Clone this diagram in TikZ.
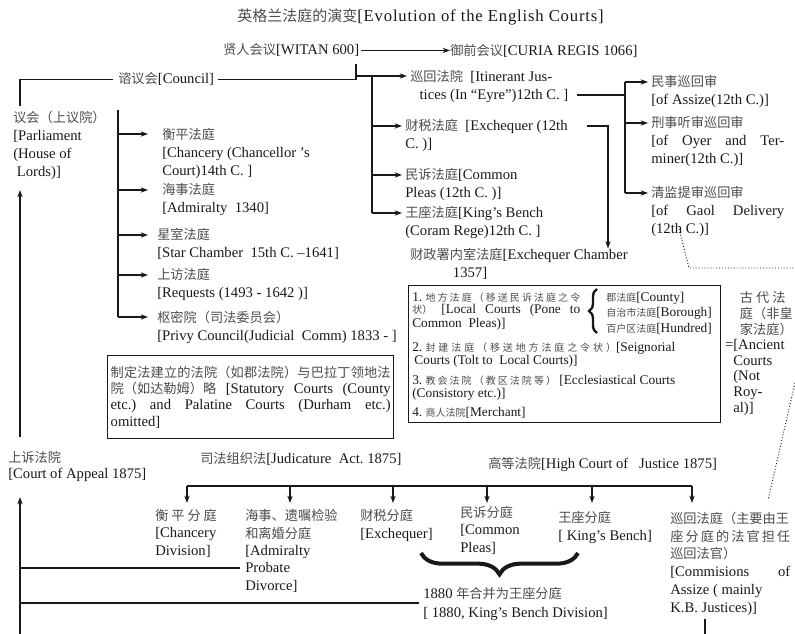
\documentclass[tikz,border=0pt]{standalone}
\usepackage{fontspec}
\setmainfont{Liberation Serif}
\newfontfamily\cjk{Noto Sans CJK SC}[Scale=0.9]
\newfontfamily\cjkl{Noto Sans CJK SC}[Scale=0.75]
\newfontfamily\titlefont{Liberation Serif}[LetterSpace=5]
\usetikzlibrary{arrows.meta,decorations.pathreplacing}
\definecolor{zhgray}{gray}{0.3}
\definecolor{ink}{gray}{0.1}
\newcommand\zh[1]{{\cjk\color{zhgray}#1}}
\newcommand\zhl[1]{{\cjkl\color{zhgray}#1}}
\newdimen\pxu \pxu=0.75pt
\newcommand\jl[2]{\makebox[#1\pxu][s]{#2}}
\makeatletter
\def\spr#1{\spr@#1\@nil}
\def\spr@#1{\ifx#1\@nil\else#1\expandafter\spr@@\fi}
\def\spr@@#1{\ifx#1\@nil\else\hfil#1\expandafter\spr@@\fi}
\makeatother
\frenchspacing
\begin{document}
\frenchspacing
\begin{tikzpicture}[x=0.75pt,y=-0.75pt,
  txt/.style={anchor=base west, inner sep=0pt, align=left, text=ink, font=\fontsize{11}{13.5}\selectfont},
  ln/.style={draw=ink, line width=1pt},
  arr/.style={ln, -{Stealth[length=5.5pt,width=4pt]}},
  dots/.style={draw=ink, line width=0.7pt, dash pattern=on 0.7pt off 1.5pt},
  boxed/.style={draw=ink, line width=1pt, anchor=north west, inner sep=0pt},
  bigbrace/.style={draw=ink, decorate}]
\useasboundingbox (0,0) rectangle (795,634);

% ---------- top ----------
\node[txt, font=\fontsize{12.5}{14}\selectfont] (title) at (237,22) {\zh{英格兰法庭的演变}{\titlefont[Evolution of the English Courts]}};
\node[txt] (witan) at (223,55) {\zh{贤人会议}[WITAN 600]};
\node[txt] (curia) at (450,56) {\zh{御前会议}[CURIA REGIS 1066]};
\draw[arr, shorten <=1pt] (witan.east) -- (witan.east -| curia.west);

\node[txt] (council) at (118,84) {\zh{谘议会}[Council]};
\node[txt] (parl) at (13,177) {\zh{议会（上议院）}\\{}[Parliament\\(House of\\\ Lords)]};
\coordinate (pTop) at (20,106);
\coordinate (jTop) at (356,64);
\coordinate (jA) at (356,76);
\draw[ln, shorten <=4pt] (council.west) -| (pTop);
\draw[ln, shorten <=3pt] (council.east) -| (jTop);

% ---------- Curia branches ----------
\node[txt] (itin) at (410,100) {\zh{巡回法院}\ \ [Itinerant Jus-\\\hspace*{7pt}tices (In “Eyre”)12th C. ]};
\node[txt] (exch) at (405,149) {\zh{财税法庭}\ \ [Exchequer (12th\\C. )]};
\node[txt] (cp) at (405,198) {\zh{民诉法庭}[Common\\Pleas (12th C. )]};
\node[txt] (kb) at (405,236) {\zh{王座法庭}[King’s Bench\\(Coram Rege)12th C. ]};
\node[txt] (exc) at (410,278) {\zh{财政署内室法庭}[Exchequer Chamber\\\hspace*{32pt}1357]};

\coordinate (itin1) at (407,76);
\coordinate (exch1) at (402,126);
\coordinate (cp1) at (402,175);
\coordinate (kb1) at (402,213);
\coordinate (bTop) at (372,76);
\draw[arr] (jA) -- (itin1);
\draw[ln] (bTop) -- (bTop |- kb1);
\draw[arr] (exch1 -| bTop) -- (exch1);
\draw[arr] (cp1 -| bTop) -- (cp1);
\draw[arr] (kb1 -| bTop) -- (kb1);

\coordinate (exE) at (587,126);
\coordinate (exA) at (608,126);
\draw[arr] (exE) -- (exA) -- (exA |- exc.north);

% ---------- Assize ----------
\node[txt] (assize) at (651,105) {\zh{民事巡回审}\\{}[of Assize(12th C.)]};
\node[txt] (oyer) at (651,164) {\zh{刑事听审巡回审}\\\jl{133}{[of Oyer and Ter-}\\miner(12th C.)]};
\node[txt] (gaol) at (651,234) {\zh{清监提审巡回审}\\\jl{133}{[of Gaol Delivery}\\(12th C.)]};
\coordinate (av1) at (625,82);
\coordinate (av2) at (625,193);
\coordinate (itE) at (577,95);
\coordinate (as1) at (648,82);
\coordinate (as2) at (648,123);
\coordinate (as3) at (648,193);
\draw[ln] (av1) -- (av2);
\draw[ln] (itE) -- (itE -| av1);
\draw[arr] (as1 -| av1) -- (as1);
\draw[arr] (as2 -| av1) -- (as2);
\draw[arr] (as3 -| av1) -- (as3);

% ---------- Council branches ----------
\node[txt] (chan) at (162,176) {\zh{衡平法庭}\\{}[Chancery (Chancellor ’s\\Court)14th C. ]};
\node[txt] (adm) at (162,213) {\zh{海事法庭}\\{}[Admiralty\ \ 1340]};
\node[txt] (star) at (157,258) {\zh{星室法庭}\\{}[Star Chamber\ \ 15th C. –1641]};
\node[txt] (req) at (157,298) {\zh{上访法庭}\\{}[Requests (1493 - 1642 )]};
\node[txt] (privy) at (157,340) {\zh{枢密院（司法委员会）}\\{}[Privy Council(Judicial\ \ Comm) 1833 - ]};
\coordinate (lTop) at (118,110);
\coordinate (chan1) at (148,134);
\coordinate (adm1) at (148,190);
\coordinate (star1) at (148,235);
\coordinate (req1) at (148,275);
\coordinate (privy1) at (148,317);
\draw[ln] (lTop) -- (lTop |- privy1);
\draw[arr] (chan1 -| lTop) -- (chan1);
\draw[arr] (adm1 -| lTop) -- (adm1);
\draw[arr] (star1 -| lTop) -- (star1);
\draw[arr] (req1 -| lTop) -- (req1);
\draw[arr] (privy1 -| lTop) -- (privy1);

% ---------- Statutory box ----------
\node[boxed, minimum width=286\pxu, minimum height=83\pxu, align=left, text=ink, font=\fontsize{11}{12.2}\selectfont] (stat) at (107,355)
 {\jl{280}{\zh{\spr{制定法建立的法院（如郡法院）与巴拉丁领地法}}}\\\jl{280}{\zh{院（如达勒姆）略}\ [Statutory Courts (County}\\\jl{280}{etc.) and Palatine Courts (Durham etc.)}\\omitted]};

% ---------- Local courts box ----------
\node[boxed, minimum width=312\pxu, minimum height=137\pxu] (localbox) at (408,285) {};
\node[txt, font=\fontsize{10}{9.75}\selectfont] (loc1) at (412,327) {\jl{168}{1. \zhl{\spr{地方法庭（移送民诉法庭之令}}}\\\jl{168}{\zhl{状）}\ [Local Courts (Pone to}\\Common\ \ Pleas)]};
\draw[bigbrace, decoration={brace, amplitude=6pt}, line width=1.8pt] (597,333) -- (597,289);
\node[txt, font=\fontsize{10}{11.5}\selectfont] (loc1r) at (606,332) {\zhl{郡法庭}[County]\\\zhl{自治市法庭}[Borough]\\\zhl{百户区法庭}[Hundred]};
\node[txt, font=\fontsize{10}{9.75}\selectfont] (loc2) at (412,364) {\jl{263}{2. \zhl{\spr{封建法庭（移送地方法庭之令状）}}[Seignorial}\\\,Courts (Tolt to\ \ Local Courts)]};
\node[txt, font=\fontsize{10}{9.75}\selectfont] (loc3) at (412,397) {\jl{263}{3. \zhl{\spr{教会法院（教区法院等）}}\ [Ecclesiastical Courts}\\(Consistory etc.)]};
\node[txt, font=\fontsize{10}{9.75}\selectfont] (loc4) at (412,416) {4. \zhl{商人法院}[Merchant]};

\node[txt, font=\fontsize{11}{11.7}\selectfont] (anc) at (733,412) {\hspace*{5pt}\zh{古 代 法}\\\hspace*{5pt}\zh{庭（非皇}\\\hspace*{5pt}\zh{家法庭）}\\\llap{=}[Ancient\\Courts\\(Not\\Roy-\\al)]};

% dotted links
\coordinate (dA) at (679,229);
\coordinate (dB) at (689,268);
\coordinate (dC) at (795,268);
\coordinate (dD) at (795,383);
\coordinate (dE) at (768,500);
\draw[dots] (dA) -- (dB) -- (dC);
\draw[dots] (dD) -- (dE);

% ---------- Bottom ----------
\node[txt, font=\fontsize{11}{12}\selectfont] (appeal) at (8,478) {\zh{上诉法院}\\{}[Court of Appeal 1875]};
\coordinate (apTop) at (20,437);
\coordinate (plBot) at (20,190);
\draw[arr] (apTop) -- (plBot);
\coordinate (vBot) at (20,634);
\coordinate (apBot) at (20,497);
\draw[arr] (vBot) -- (apBot);

\node[txt] (jud) at (200,463) {\zh{司法组织法}[Judicature\ \ Act. 1875]};
\node[txt] (hc) at (488,468) {\zh{高等法院}[High Court of\ \ \ Justice 1875]};

\node[txt, font=\fontsize{11}{12.8}\selectfont] (chd) at (155,555) {\zh{衡 平 分 庭}\\{}[Chancery\\Division]};
\node[txt, font=\fontsize{11}{13}\selectfont] (admd) at (245,590) {\zh{海事、遗嘱检验}\\\zh{和离婚分庭}\\{}[Admiralty\\Probate\\Divorce]};
\node[txt, font=\fontsize{11}{12.8}\selectfont] (exd) at (360,538) {\zh{财税分庭}\\{}[Exchequer]};
\node[txt, font=\fontsize{11}{12.8}\selectfont] (cpd) at (460,552) {\zh{民诉分庭}\\{}[Common\\Pleas]};
\node[txt, font=\fontsize{11}{12.8}\selectfont] (kbd) at (558,540) {\zh{王座分庭}\\{}[ King’s Bench]};
\node[txt, font=\fontsize{11}{13.3}\selectfont] (assd) at (670,612) {\zh{巡回法庭（主要由王}\\\jl{120}{\zh{\spr{座分庭的法官担任}}}\\\zh{巡回法官）}\\\jl{120}{[Commisions of}\\Assize ( mainly\\K.B. Justices)]};
\node[txt, font=\fontsize{11}{14}\selectfont] (kbdiv) at (423,617) {1880 \zh{年合并为王座分庭}\\{}[ 1880, King’s Bench Division]};

\coordinate (b1) at (187,486);
\coordinate (b2) at (290,486);
\coordinate (b3) at (393,486);
\coordinate (b4) at (487,486);
\coordinate (b5) at (592,486);
\coordinate (b6) at (692,486);
\coordinate (tipY) at (0,503);
\draw[ln] (b1) -- (b6);
\foreach \b in {b1,b2,b3,b4,b5,b6} \draw[arr] (\b) -- (\b |- tipY);

\draw[bigbrace, decoration={brace, mirror, amplitude=16pt}, line width=3pt] (421,553) -- (578,553);

\coordinate (probW) at (240,568);
\coordinate (kbW) at (419,603);
\draw[ln] (probW -| vBot) -- (probW);
\draw[ln] (kbW -| vBot) -- (kbW);

\coordinate (asB) at (705,619);
\draw[ln] (asB) -- (asB |- vBot);
\end{tikzpicture}
\end{document}
